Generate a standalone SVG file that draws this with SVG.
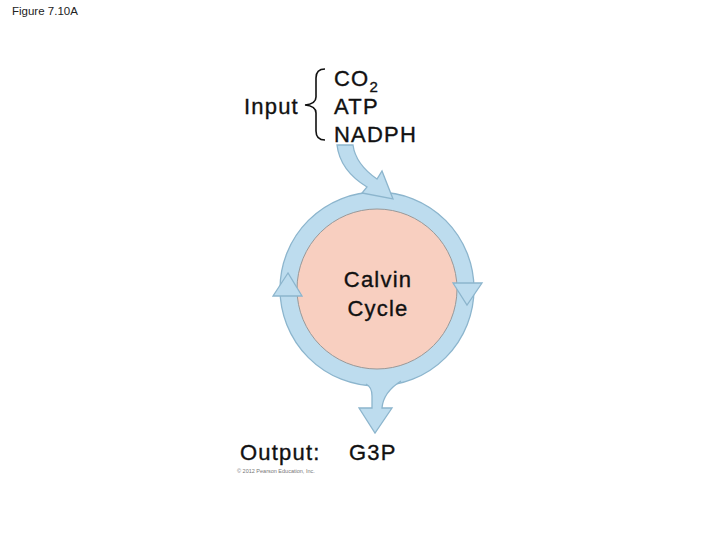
<svg xmlns="http://www.w3.org/2000/svg" width="720" height="540" viewBox="0 0 720 540">
<style>
.t{font-family:"Liberation Sans",Arial,sans-serif;font-size:22px;letter-spacing:1.2px;fill:#111;stroke:#111;stroke-width:0.35}
.ring{fill:#bddcee;stroke:#8cb5cd;stroke-width:1.3}
.arr{fill:#bddcee;stroke:#8cb5cd;stroke-width:1.3;stroke-linejoin:miter}
.fillonly{fill:#bddcee;stroke:none}
.line{fill:none;stroke:#8cb5cd;stroke-width:1.3}
</style>
<rect width="720" height="540" fill="#fff"/>
<text x="12" y="15" font-family="Liberation Sans, Arial, sans-serif" font-size="11.5" fill="#222">Figure 7.10A</text>

<g id="cycle">
  <circle class="ring" cx="377" cy="289" r="97"/>
  <circle cx="377" cy="289" r="80" fill="#f8cfc0" stroke="#999" stroke-width="1"/>
  <text class="t" x="378" y="287" text-anchor="middle">Calvin</text>
  <text class="t" x="378" y="316" text-anchor="middle">Cycle</text>
</g>

<g id="connectors">
  <polygon class="arr" points="453,283 482,283 467,305"/>
  <polygon class="arr" points="288,273 273,296 302,296"/>
  <path class="arr" d="M337,145 C339,162 349,176 367,187 L362,193 L393,199 L382,171 L377,179 C364,170 355,160 353,145 Z"/>
  <path class="fillonly" d="M366,375 L366,384 Q372,387 372,396 L372,408 L359,408 L375,433 L392,408 L382,408 C383,396 390,388 401,381 L401,375 Z"/>
  <path class="line" d="M366,384 Q372,387 372,396 L372,408 L359,408 L375,433 L392,408 L382,408 C383,396 390,388 401,381"/>
</g>

<g id="input">
  <text class="t" x="244" y="114">Input</text>
  <path d="M325,69 Q316,69 316,78 L316,97 Q316,104 305,105 Q316,106 316,113 L316,131 Q316,140 325,140" fill="none" stroke="#111" stroke-width="1.6"/>
  <text class="t" x="334" y="86">CO<tspan font-size="15" dy="6">2</tspan></text>
  <text class="t" x="334" y="114">ATP</text>
  <text class="t" x="334" y="142">NADPH</text>
</g>

<g id="output">
  <text class="t" x="240" y="460">Output:</text>
  <text class="t" x="349" y="460">G3P</text>
  <text x="237" y="473" font-family="Liberation Sans, Arial, sans-serif" font-size="5.5" fill="#777">© 2012 Pearson Education, Inc.</text>
</g>
</svg>
